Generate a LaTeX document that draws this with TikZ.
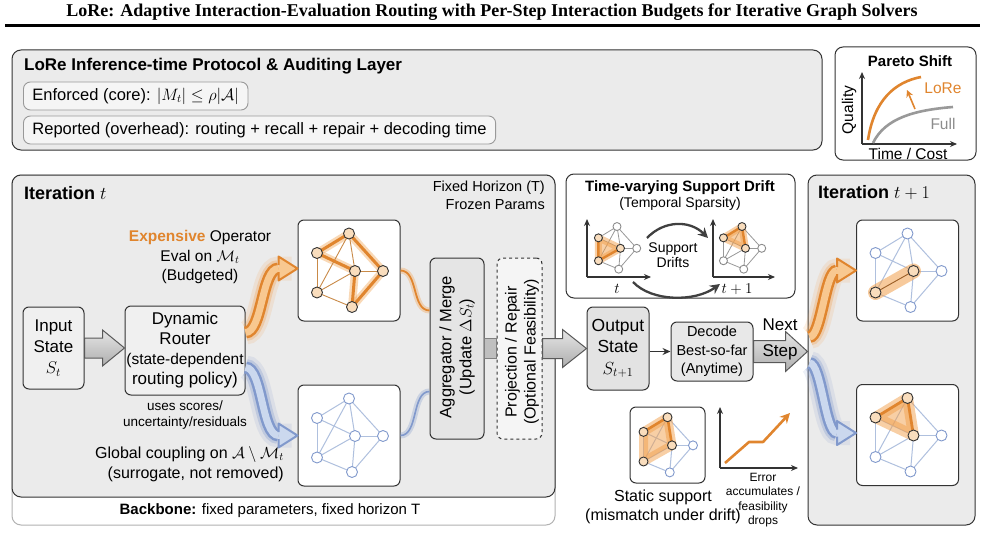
\RequirePackage{fix-cm}
\documentclass[tikz,border=0pt]{standalone}
\usepackage{fontspec}
\setmainfont{Liberation Sans}
\newfontfamily\titlefont{Liberation Serif}
\usetikzlibrary{calc,arrows.meta}
\definecolor{orC}{HTML}{E0852E}
\definecolor{orL}{HTML}{F8C890}
\definecolor{orG}{HTML}{F2A04C}
\definecolor{orN}{HTML}{F9DDBD}
\definecolor{orT}{HTML}{C98A48}
\definecolor{blC}{HTML}{AFC0DE}
\definecolor{blD}{HTML}{8199CC}
\definecolor{blL}{HTML}{CBD8EE}
\definecolor{pan}{HTML}{EBEBEB}
\definecolor{bd}{HTML}{333333}
\newcommand{\fs}[2]{\fontsize{#1}{#2}\selectfont}

\newcommand{\gcoords}[4]{%
  \begin{scope}[shift={(#2,#3)},scale=#4]
    \coordinate (#1-1) at (0,-37);
    \coordinate (#1-2) at (-32,-17.5);
    \coordinate (#1-3) at (6,0.5);
    \coordinate (#1-4) at (34,0.5);
    \coordinate (#1-5) at (-32,22);
    \coordinate (#1-6) at (3,36.5);
  \end{scope}}
\newcommand{\gedges}[2]{%
  \foreach \ea/\eb in {1/2,1/4,1/3,1/5,2/5,2/3,3/4,3/6,4/6,3/5,5/6}{\draw[#2] (#1-\ea) -- (#1-\eb);}}
\newcommand{\gnodes}[4]{%
  \foreach \ni in {#2}{\node[#3, minimum size=#4] (#1n\ni) at (#1-\ni) {};}}
\newcommand{\blockarrow}[5]{%
  \coordinate (baE) at (#2 |- #1);
  \draw[barrow] ($(#1)+(0,-#3)$) -- ($(baE)+(-#5,-#3)$) -- ($(baE)+(-#5,-#4)$) -- (baE)
    -- ($(baE)+(-#5,#4)$) -- ($(baE)+(-#5,#3)$) -- ($(#1)+(0,#3)$) -- cycle;}
% #1 start, #2 tip, #3 dark, #4 light, #5 glow, #6 control length
\newcommand{\fatwave}[6]{%
  \coordinate (fwB) at ($(#2)+(-19,0)$);
  \draw[#5, opacity=.15, line width=24pt] (#1) .. controls ($(#1)+(#6,0)$) and ($(fwB)+(-#6,0)$) .. (fwB) -- ($(#2)+(-6,0)$);
  \draw[#5, opacity=.3, line width=17pt] (#1) .. controls ($(#1)+(#6,0)$) and ($(fwB)+(-#6,0)$) .. (fwB);
  \draw[#3, line width=12pt] (#1) .. controls ($(#1)+(#6,0)$) and ($(fwB)+(-#6,0)$) .. (fwB);
  \draw[#4, line width=7pt] (#1) .. controls ($(#1)+(#6,0)$) and ($(fwB)+(-#6,0)$) .. (fwB);
  \fill[#4] ($(fwB)+(0,-12)$) -- (#2) -- ($(fwB)+(0,12)$) -- cycle;
  \draw[#3, line width=2pt, line join=round] ($(fwB)+(0,-3.5)$) -- ($(fwB)+(0,-12)$) -- (#2) -- ($(fwB)+(0,12)$) -- ($(fwB)+(0,3.5)$);}

\tikzset{
  panel/.style={draw=bd, line width=1pt, rounded corners=9pt, fill=pan},
  subbox/.style={draw=black!40, line width=0.9pt, rounded corners=7pt, fill=black!4, minimum height=28pt, inner xsep=9pt, font=\fs{16.5}{19}},
  sbox/.style={draw=bd, line width=1pt, rounded corners=6pt, fill=#1},
  gbox/.style={draw=bd, line width=1pt, rounded corners=6pt, fill=white, minimum width=102pt, minimum height=101pt},
  wbox/.style={draw=bd, line width=1pt, rounded corners=8pt, fill=white},
  lbl/.style={inner sep=0pt, align=center},
  gnB/.style={circle, draw=blD, fill=white, line width=0.9pt, inner sep=0pt},
  gnO/.style={circle, draw=bd, fill=orN, line width=0.9pt, inner sep=0pt},
  eB/.style={blC, line width=1pt},
  eG/.style={black!40, line width=0.8pt},
  eT/.style={orT, line width=0.9pt},
  eThick/.style={orC, line width=3pt, line cap=round},
  eGlow/.style={orG, opacity=.4, line width=8pt, line cap=round},
  barrow/.style={draw=black!65, line width=1pt, top color=black!10, bottom color=black!32, line join=miter},
  axis/.style={bd, line width=1.3pt, -{Stealth[length=7pt,width=6pt]}},
  darc/.style={black!75, line width=2.3pt, -{Stealth[length=10pt,width=10pt]}},
}

\begin{document}
\begin{tikzpicture}[x=1pt,y=-1pt,font=\fs{16}{19}]
\useasboundingbox (0,0) rectangle (985,551);

% ---------- title ----------
\node[lbl, font=\titlefont\bfseries\fs{18}{20}] (title) at (492,12.5) {LoRe: Adaptive Interaction-Evaluation Routing with Per-Step Interaction Budgets for Iterative Graph Solvers};
\draw[line width=2.2pt] (5,25.5) -- (980,25.5);

% ---------- protocol layer ----------
\node[panel, minimum width=810pt, minimum height=100pt] (proto) at (417,100) {};
\node[anchor=west, inner sep=0pt, font=\bfseries\fs{17}{20}] (protot) at (24,66) {LoRe Inference-time Protocol \& Auditing Layer};
\node[subbox, anchor=west] (enf) at (23,96) {Enforced (core): $|M_t|\le\rho|\mathcal{A}|$};
\node[subbox, anchor=west] (rep) at (23,130) {Reported (overhead): routing + recall + repair + decoding time};

% ---------- Pareto ----------
\node[wbox, minimum width=141pt, minimum height=113pt] (par) at (905.5,103.5) {};
\node[lbl, font=\bfseries\fs{15}{17}] (part) at (910,61) {Pareto Shift};
\coordinate (po) at (862,144);
\coordinate (pyt) at (862,72);
\coordinate (pxt) at (957,144);
\draw[axis] (po) -- (pyt);
\draw[axis] (po) -- (pxt);
\node[lbl, rotate=90, font=\fs{15.5}{17}] (pq) at (849,110) {Quality};
\node[lbl, font=\fs{15.5}{17}] (ptc) at (908,154) {Time / Cost};
\draw[black!40, line width=2.6pt] (873,143) .. controls (885,118) and (915,110) .. (953,107);
\draw[orC, line width=2.6pt] (868,140) .. controls (874,100) and (895,82) .. (921,77);
\draw[orC, line width=1.6pt, -{Stealth[length=7pt,width=7pt]}] (915,109) -- (907,90);
\node[lbl, text=orC, font=\fs{15.5}{17}] (plore) at (943,88) {LoRe};
\node[lbl, text=black!45, font=\fs{15.5}{17}] (pfull) at (943,124) {Full};

% ---------- Iteration t ----------
\node[draw=black!30, line width=1pt, rounded corners=9pt, fill=white, minimum width=543pt, minimum height=350pt] (bb) at (283.5,350) {};
\node[panel, minimum width=543pt, minimum height=322pt] (itt) at (283.5,336) {};
\node[anchor=west, inner sep=0pt, font=\bfseries\fs{18}{20}] (itttl) at (24,193) {Iteration $t$};
\node[anchor=north east, inner sep=0pt, align=right, font=\fs{14.5}{18}] (fixed) at (545,181) {Fixed Horizon (T)\\Frozen Params};
\node[lbl, font=\bfseries\fs{15}{17}] (bbt) at (270,511) {Backbone:\mdseries{} fixed parameters, fixed horizon T};

\node[sbox=black!6, minimum width=61pt, minimum height=82pt, align=center, inner sep=0pt, font=\fs{17}{21}] (inp) at (53.5,348) {Input\\State\\$S_t$};
\node[sbox=black!6, minimum width=120pt, minimum height=89pt, align=center, inner sep=0pt, font=\fs{17}{20}] (router) at (185,350.5)
  {Dynamic\\Router\\\fs{15.5}{18}(state-dependent\\routing policy)};
\node[lbl, font=\fs{13.5}{16}] (uses) at (185,415) {uses scores/\\uncertainty/residuals};
\node[anchor=east, inner sep=0pt, align=right, font=\fs{16}{20}] (glob) at (284,464) {Global coupling on $\mathcal{A}\setminus\mathcal{M}_t$\\(surrogate, not removed)};
\node[lbl, font=\fs{15.5}{19.5}] (expl) at (200,257) {{\bfseries\color{orC}Expensive} Operator\\Eval on $\mathcal{M}_t$\\(Budgeted)};

\node[gbox] (G1) at (349,270.5) {};
\node[gbox] (G2) at (349,435.5) {};
\node[sbox=black!10, minimum width=54pt, minimum height=181pt] (agg) at (457,348.5) {};
\node[lbl, rotate=90, font=\fs{16.5}{20}] (aggt) at (457,347) {Aggregator / Merge\\(Update $\Delta S_t$)};
\node[draw=bd, line width=1pt, dashed, rounded corners=6pt, fill=black!4, minimum width=45pt, minimum height=181pt] (proj) at (519.5,348.5) {};
\node[lbl, rotate=90, font=\fs{16}{19}] (projt) at (522,352) {Projection / Repair\\(Optional Feasibility)};

% G1 orange graph
\gcoords{g1}{349}{270.5}{1}
\foreach \ea/\eb in {1/2,1/4,4/6,3/6,2/3}{\draw[eGlow] (g1-\ea) -- (g1-\eb);}
\gedges{g1}{eT}
\foreach \ea/\eb in {1/2,1/4,4/6,3/6,2/3}{\draw[eThick] (g1-\ea) -- (g1-\eb);}
\gnodes{g1}{1,2,3,4,5,6}{gnO}{11pt}
% G2 blue graph
\gcoords{g2}{349}{435.5}{1}
\gedges{g2}{eB}
\gnodes{g2}{1,2,3,4,5,6}{gnB}{11pt}

% arrows in iteration t
\blockarrow{inp.east}{router.west}{10pt}{18pt}{22pt}
\fatwave{$(router.east)+(0,-18)$}{$(G1.west)+(0,-2)$}{orC}{orL}{orG}{17}
\fatwave{$(router.east)+(0,17)$}{$(G2.west)$}{blD}{blL}{blD}{17}
\draw[orG, opacity=.35, line width=6pt] (G1.east) .. controls +(18,0) and +(-18,0) .. ($(agg.west)+(0,-38)$);
\draw[orC, line width=1.8pt] (G1.east) .. controls +(18,0) and +(-18,0) .. ($(agg.west)+(0,-38)$);
\draw[blD, opacity=.3, line width=6pt] (G2.east) .. controls +(18,0) and +(-18,0) .. ($(agg.west)+(0,43)$);
\draw[blD, line width=1.6pt] (G2.east) .. controls +(18,0) and +(-18,0) .. ($(agg.west)+(0,43)$);
\draw[draw=black!50, fill=black!25, line width=0.8pt] ($(agg.east)+(0,-10)$) rectangle ($(proj.west)+(0,10)$);

% ---------- Time-varying support drift ----------
\node[wbox, minimum width=229pt, minimum height=124pt] (drift) at (680.5,236) {};
\node[lbl, font=\bfseries\fs{15}{17}] (driftt) at (680,188) {Time-varying Support Drift};
\node[lbl, font=\fs{14}{16}] (drifts) at (680,204) {(Temporal Sparsity)};
\coordinate (dlo) at (587,277);
\draw[axis] (dlo) -- (587,219);
\draw[axis] (dlo) -- (651,277);
\coordinate (dro) at (713,277);
\draw[axis] (dro) -- (713,219);
\draw[axis] (dro) -- (775,277);
\node[lbl, font=\fs{15}{15}] (dlt) at (617,289) {$t$};
\node[lbl, font=\fs{15}{15}] (drt) at (737,289) {$t+1$};
\node[lbl, font=\fs{14}{15.5}] (sdr) at (673,255) {Support\\Drifts};
\gcoords{da}{617}{248}{0.58}
\gedges{da}{eG}
\fill[orG, opacity=.5, draw=orG, line width=7pt, line join=round] (da-2) -- (da-3) -- (da-5) -- cycle;
\draw[orC, line width=2.4pt, line cap=round] (da-2) -- (da-5) -- (da-3);
\gnodes{da}{1,4,6}{gnB, draw=black!45}{8pt}
\gnodes{da}{2,3,5}{gnO}{8pt}
\gcoords{dc}{742}{248}{0.58}
\gedges{dc}{eG}
\fill[orG, opacity=.5, draw=orG, line width=7pt, line join=round] (dc-2) -- (dc-1) -- (dc-3) -- cycle;
\draw[orC, line width=2.4pt, line cap=round] (dc-2) -- (dc-1) -- (dc-3);
\gnodes{dc}{4,5,6}{gnB, draw=black!45}{8pt}
\gnodes{dc}{1,2,3}{gnO}{8pt}
\coordinate (da1) at (647,238);
\coordinate (da2) at (708,238);
\coordinate (db1) at (633,282);
\coordinate (db2) at (720,284);
\draw[darc] (da1) .. controls (664,220) and (690,220) .. (da2);
\draw[darc] (db1) .. controls (652,302) and (695,302) .. (db2);

% ---------- output / decode ----------
\node[sbox=black!11, minimum width=62pt, minimum height=83pt, align=center, inner sep=0pt, font=\fs{17.5}{21.5}] (out) at (618,348.5) {Output\\State\\$S_{t+1}$};
\node[sbox=black!9, minimum width=82pt, minimum height=59pt, align=center, inner sep=0pt, font=\fs{14.5}{18.5}] (dec) at (712,351.5) {Decode\\Best-so-far\\(Anytime)};
\blockarrow{proj.east}{out.west}{10pt}{19pt}{24pt}
\draw[bd, line width=1.2pt, -{Stealth[length=8pt,width=7pt]}] (out.east |- dec.west) -- (dec.west);

% ---------- iteration t+1 ----------
\node[panel, minimum width=167pt, minimum height=350pt] (it1) at (891.5,350) {};
\node[anchor=west, inner sep=0pt, font=\bfseries\fs{18}{20}] (it1t) at (818,193) {Iteration $t+1$};
\blockarrow{dec.east}{it1.west}{11pt}{20pt}{22pt}
\node[lbl, font=\fs{17}{19}] (nxt) at (780,325) {Next};
\node[lbl, font=\fs{17}{19}] (stp) at (780,352) {Step};
\node[gbox] (G3) at (907.5,270.5) {};
\node[gbox] (G4) at (907.5,435) {};
\gcoords{g3}{907.5}{270.5}{1}
\gedges{g3}{eB}
\draw[orG, opacity=.55, line width=15pt, line cap=round] (g3-5) -- (g3-3);
\draw[orC!70!black, line width=0.8pt] (g3-5) -- (g3-3);
\gnodes{g3}{1,2,4,6}{gnB}{11pt}
\gnodes{g3}{3,5}{gnO}{11pt}
\gcoords{g4}{907.5}{435}{1}
\gedges{g4}{eB}
\fill[orG, opacity=.5, draw=orG, line width=11pt, line join=round] (g4-2) -- (g4-1) -- (g4-3) -- cycle;
\draw[orC, line width=2.8pt, line cap=round] (g4-2) -- (g4-1) -- (g4-3);
\gnodes{g4}{4,5,6}{gnB}{11pt}
\gnodes{g4}{1,2,3}{gnO}{11pt}
\fatwave{$(it1.west)+(2,-13)$}{G3.west}{orC}{orL}{orG}{12}
\fatwave{$(it1.west)+(2,13)$}{$(G4.west)+(0,-2)$}{blD}{blL}{blD}{12}

% ---------- static support ----------
\node[draw=bd, line width=1pt, rounded corners=6pt, fill=white, minimum width=75pt, minimum height=76pt] (stat) at (667.5,445) {};
\gcoords{st}{667.5}{445}{0.75}
\gedges{st}{eB}
\fill[orG, opacity=.5, draw=orG, line width=9pt, line join=round] (st-2) -- (st-1) -- (st-3) -- (st-5) -- cycle;
\draw[orC, line width=2.6pt, line cap=round] (st-2) -- (st-1) -- (st-3);
\gnodes{st}{4,6}{gnB}{9pt}
\gnodes{st}{1,2,3,5}{gnO}{9pt}
\node[lbl, font=\fs{16}{19}] (statt) at (663,507) {Static support\\(mismatch under drift)};
\coordinate (eo) at (720,468);
\draw[axis] (eo) -- (720,407);
\draw[axis] (eo) -- (798,468);
\draw[orC, line width=2.6pt, line join=round, -{Stealth[length=10pt,width=10pt]}] (725,463) -- (749,442) -- (763,442) -- (790,413);
\node[lbl, font=\fs{12}{14.3}] (errt) at (763,500) {Error\\accumulates /\\feasibility\\drops};

\end{tikzpicture}
\end{document}
